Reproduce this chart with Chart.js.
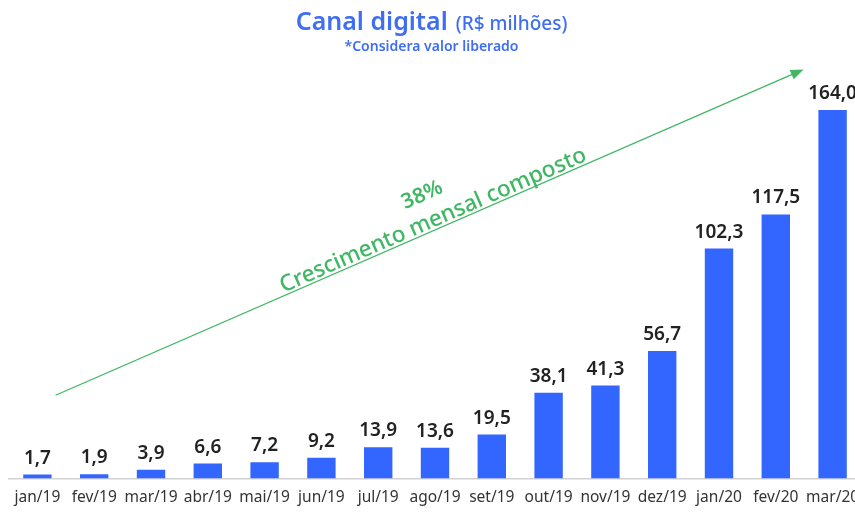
<!DOCTYPE html>
<html>
<head>
<meta charset="utf-8">
<script src="https://cdn.jsdelivr.net/npm/chart.js@4/dist/chart.umd.min.js"></script>
<style>
  body { margin: 0; overflow: hidden; background: #fff; font-family: "Noto Sans", sans-serif; }
  #wrap { position: relative; width: 870px; height: 524px; }
  #head { position: absolute; left: 0; top: 3px; width: 863px; text-align: center; color: #3f6ef2; z-index: 2; }
  #head .t1 { font-size: 25px; font-weight: 600; }
  #head .t2 { font-size: 19px; font-weight: 500; margin-left: 8px; }
  #head .sub { font-size: 14px; font-weight: 600; margin-top: -1px; }
  canvas { position: absolute; left: 0; top: 0; }
</style>
</head>
<body>
<div id="wrap">
  <div id="head">
    <div><span class="t1">Canal digital</span><span class="t2">(R$ milhões)</span></div>
    <div class="sub">*Considera valor liberado</div>
  </div>
  <canvas id="chart" width="870" height="524"></canvas>
</div>
<script>
var months = ["jan/19", "fev/19", "mar/19", "abr/19", "mai/19", "jun/19", "jul/19", "ago/19", "set/19", "out/19", "nov/19", "dez/19", "jan/20", "fev/20", "mar/20"]
var values = [1.7, 1.9, 3.9, 6.6, 7.2, 9.2, 13.9, 13.6, 19.5, 38.1, 41.3, 56.7, 102.3, 117.5, 164.0]

// growth arrow, in axis units (category index, R$ milhões)
var arrowFrom = [0.32, 37]
var arrowTo = [13.49, 182]
var growthRate = "38%"
var growthText = "Crescimento mensal composto"

var barColor = "#3366ff"
var green = "#3fb764"

function fmt(v) { return v.toFixed(1).replace(".", ",") }

var valueLabels = {
    id: "valueLabels",
    afterDatasetsDraw: function (chart) {
        var ctx = chart.ctx
        var meta = chart.getDatasetMeta(0)
        ctx.save()
        ctx.font = "600 19px 'Noto Sans'"
        ctx.fillStyle = "#222"
        ctx.textAlign = "center"
        ctx.textBaseline = "alphabetic"
        meta.data.forEach(function (bar, i) {
            ctx.fillText(fmt(values[i]), bar.x, bar.y - 11)
        })
        ctx.restore()
    }
}

var growthArrow = {
    id: "growthArrow",
    afterDraw: function (chart) {
        var ctx = chart.ctx
        var xs = chart.scales.x, ys = chart.scales.y
        var x1 = xs.getPixelForValue(arrowFrom[0]), y1 = ys.getPixelForValue(arrowFrom[1])
        var x2 = xs.getPixelForValue(arrowTo[0]), y2 = ys.getPixelForValue(arrowTo[1])
        var ang = Math.atan2(y2 - y1, x2 - x1)
        ctx.save()
        ctx.strokeStyle = green
        ctx.fillStyle = green
        ctx.lineWidth = 1.3
        ctx.beginPath()
        ctx.moveTo(x1, y1)
        ctx.lineTo(x2 - 10 * Math.cos(ang), y2 - 10 * Math.sin(ang))
        ctx.stroke()
        // head
        ctx.translate(x2, y2)
        ctx.rotate(ang)
        ctx.beginPath()
        ctx.moveTo(0, 0)
        ctx.lineTo(-13, -5)
        ctx.lineTo(-13, 5)
        ctx.closePath()
        ctx.fill()
        ctx.restore()

        // texts along the line
        ctx.save()
        ctx.translate((x1 + x2) / 2, (y1 + y2) / 2)
        ctx.rotate(ang)
        ctx.textAlign = "center"
        ctx.textBaseline = "alphabetic"
        ctx.fillStyle = green
        ctx.font = "500 22.5px 'Noto Sans'"
        ctx.fillText(growthText, 8, -3)
        ctx.font = "600 21px 'Noto Sans'"
        ctx.fillText(growthRate, 8, -31)
        ctx.restore()
    }
}

new Chart(document.getElementById("chart"), {
    type: "bar",
    data: {
        labels: months,
        datasets: [{
            data: values,
            backgroundColor: barColor,
            barPercentage: 0.5,
            categoryPercentage: 1.0
        }]
    },
    options: {
        responsive: false,
        animation: false,
        devicePixelRatio: 1,
        layout: { padding: { top: 29, left: 9, right: 9, bottom: 7 } },
        plugins: { legend: { display: false }, tooltip: { enabled: false } },
        scales: {
            x: {
                grid: { display: false, drawTicks: false },
                border: { display: true, color: "#d2d2d2", width: 1.5 },
                ticks: { color: "#333", font: { family: "Noto Sans", size: 15.5 }, padding: 10, maxRotation: 0, autoSkip: false }
            },
            y: { display: false, min: 0, max: 200 }
        }
    },
    plugins: [valueLabels, growthArrow]
})
</script>
</body>
</html>
